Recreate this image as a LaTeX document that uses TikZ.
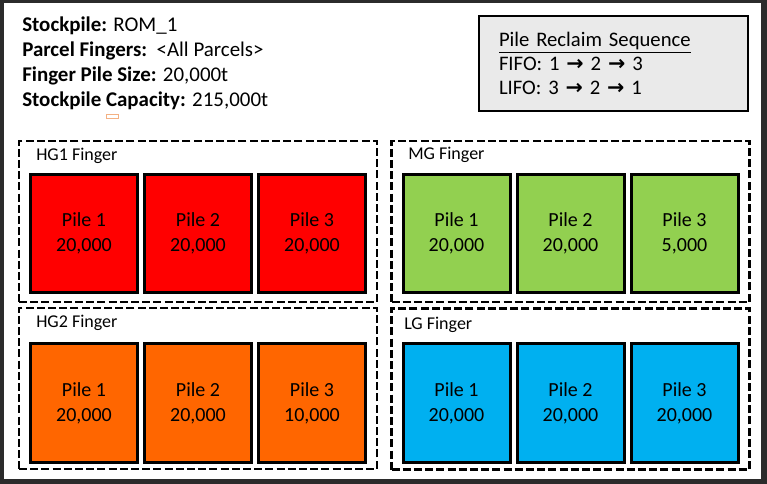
\documentclass[tikz,border=0pt]{standalone}
\usepackage{xcolor}
\usepackage{fontspec}
\setmainfont{Carlito}
\newfontfamily\arrowfont{DejaVu Sans}
\usepackage{tikz}
\usetikzlibrary{positioning}
\definecolor{hgOneRed}{HTML}{FF0000}
\definecolor{hgTwoOrange}{HTML}{FF6600}
\definecolor{mgGreen}{HTML}{92D050}
\definecolor{lgBlue}{HTML}{00B0F0}
\definecolor{panelGray}{HTML}{EAEAEA}
\definecolor{frameDark}{HTML}{2B2B2B}
\definecolor{markOrange}{HTML}{F4B183}
\newcommand{\seqArrow}{{\arrowfont\bfseries →}}
\tikzset{
  pileBox/.style={
    rectangle,
    draw=black,
    line width=2.25pt,
    fill=#1,
    minimum width=80.25pt,
    minimum height=88.5pt,
    align=center,
    font=\fontsize{15}{18.75}\selectfont
  },
  fingerBox/.style={
    rectangle,
    draw=black,
    line width=1.8pt,
    dash pattern=on 6pt off 2.4pt,
    minimum width=268.5pt,
    minimum height=120.75pt
  },
  fingerLabel/.style={
    anchor=west,
    inner sep=0pt,
    font=\fontsize{13.5}{16}\selectfont
  },
  reclaimBox/.style={
    rectangle,
    draw=black,
    line width=1.5pt,
    fill=panelGray,
    minimum width=201.75pt,
    minimum height=71.25pt,
    text width=171.75pt,
    inner xsep=15pt,
    align=left,
    font=\fontsize{15.5}{18}\selectfont
  },
  infoText/.style={
    anchor=west,
    inner sep=0pt,
    align=left,
    font=\fontsize{15.7}{18.75}\selectfont
  }
}
\begin{document}
\begin{tikzpicture}[x=0.75pt,y=-0.75pt]
        \fill[frameDark] (0,0) rectangle (767,484);
        \fill[white] (4,3) rectangle (761,479);

        \node[infoText] (info) at (22,63.5) {\textbf{Stockpile:} ROM\_1\\\textbf{Parcel Fingers:}\ \ <All Parcels>\\\textbf{Finger Pile Size:} 20,000t\\\textbf{Stockpile Capacity:} 215,000t};
        \draw[markOrange, fill=white, line width=0.75pt] (106,115) rectangle (118,119);
        \node[reclaimBox] (reclaim) at (613.5,63.5) {\underline{Pile Reclaim Sequence}\\FIFO: 1 \seqArrow{} 2 \seqArrow{} 3\\LIFO: 3 \seqArrow{} 2 \seqArrow{} 1};

        \node[fingerBox] (hgOne) at (198,221.5) {};
        \node[fingerBox] (mg) at (570.5,221.5) {};
        \node[fingerBox] (hgTwo) at (198,388.5) {};
        \node[fingerBox] (lg) at (570.5,389) {};

        \node[fingerLabel] (hgOneLabel) at (36,156) {HG1 Finger};
        \node[fingerLabel] (mgLabel) at (408,155) {MG Finger};
        \node[fingerLabel] (hgTwoLabel) at (36,323) {HG2 Finger};
        \node[fingerLabel] (lgLabel) at (404,325) {LG Finger};

        \node[pileBox=hgOneRed] (hgOnePileA) at (84,233.5) {Pile 1\\20,000};
        \node[pileBox=hgOneRed, right=3pt of hgOnePileA] (hgOnePileB) {Pile 2\\20,000};
        \node[pileBox=hgOneRed, right=3pt of hgOnePileB] (hgOnePileC) {Pile 3\\20,000};

        \node[pileBox=mgGreen] (mgPileA) at (456.5,233.5) {Pile 1\\20,000};
        \node[pileBox=mgGreen, right=3pt of mgPileA] (mgPileB) {Pile 2\\20,000};
        \node[pileBox=mgGreen, right=3pt of mgPileB] (mgPileC) {Pile 3\\5,000};

        \node[pileBox=hgTwoOrange] (hgTwoPileA) at (84,403) {Pile 1\\20,000};
        \node[pileBox=hgTwoOrange, right=3pt of hgTwoPileA] (hgTwoPileB) {Pile 2\\20,000};
        \node[pileBox=hgTwoOrange, right=3pt of hgTwoPileB] (hgTwoPileC) {Pile 3\\10,000};

        \node[pileBox=lgBlue] (lgPileA) at (456.5,403) {Pile 1\\20,000};
        \node[pileBox=lgBlue, right=3pt of lgPileA] (lgPileB) {Pile 2\\20,000};
        \node[pileBox=lgBlue, right=3pt of lgPileB] (lgPileC) {Pile 3\\20,000};
    \end{tikzpicture}
\end{document}
